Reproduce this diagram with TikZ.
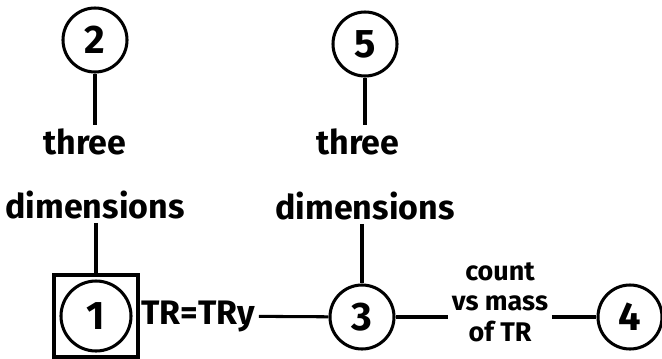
\documentclass[tikz,border=0pt]{standalone}
\usepackage{fontspec}
\setmainfont{Fira Sans}
\begin{document}
\begin{tikzpicture}[x=0.03cm, y=-0.03cm, line width=2.6pt,
    num/.style={circle, draw, minimum size=1.92cm, inner sep=0pt, font=\fontsize{34}{34}\selectfont\bfseries},
    lbl/.style={inner sep=2pt, font=\fontsize{29}{29}\selectfont\bfseries},
    frame/.style={rectangle, draw, minimum width=2.52cm, minimum height=2.46cm}]
    \useasboundingbox (0,0) rectangle (662,358);
    % top row
    \node[num] (n2) at (95,40) {2};
    \node[num] (n5) at (365,44) {5};
    \node[lbl] (t2) at (85,142) {three};
    \node[lbl] (t5) at (358,142) {three};
    \node[lbl] (d2) at (95,205) {dimensions};
    \node[lbl] (d5) at (365,206) {dimensions};
    % bottom row
    \node[frame] (box1) at (96,316) {};
    \node[num, minimum size=2.1cm] (n1) at (96,316) {1};
    \node[lbl] (tr) at (198,316) {TR=TRy};
    \node[num] (n3) at (362,317) {3};
    \node[lbl, align=center, font=\fontsize{23}{26}\selectfont\bfseries] (cnt) at (500,302) {count\\vs mass\\of TR};
    \node[num] (n4) at (630,317) {4};
    % connectors
    \draw (n2) -- (n2 |- t2.north);
    \draw (n5) -- (n5 |- t5.north);
    \draw (d2.south -| box1) -- (box1);
    \draw (d5.south -| n3) -- (n3);
    \draw (box1) -- (tr);
    \draw (tr) -- (n3);
    \draw (n3) -- (cnt.west |- n3);
    \draw (cnt.east |- n4) -- (n4);
\end{tikzpicture}
\end{document}
